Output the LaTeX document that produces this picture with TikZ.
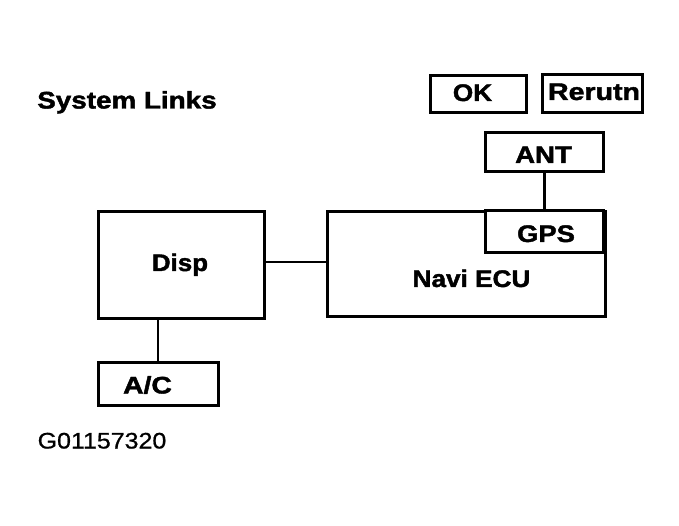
\documentclass[tikz,border=0pt]{standalone}
\usepackage{fontspec}
\setmainfont{Liberation Sans}[BoldFeatures={FakeBold=1.6},UprightFeatures={FakeBold=0.8}]
\begin{document}
\begin{tikzpicture}[x=1pt,y=-1pt,
  box/.style={draw=black,line width=3pt,inner sep=0pt,fill=white},
  lbl/.style={inner sep=0pt,text height=17pt,text depth=0pt,font=\fontsize{24}{27}\selectfont\bfseries},
  plain/.style={inner sep=0pt,text height=16pt,text depth=0pt,font=\fontsize{22.5}{25}\selectfont},
  link/.style={line width=2.6pt}]
\useasboundingbox (0,0) rectangle (679,526);
% boxes
\node[box,minimum width=96pt,minimum height=37pt] (ok) at (478,94.5) {};
\node[box,minimum width=100pt,minimum height=38pt] (ret) at (592,94) {};
\node[box,minimum width=118pt,minimum height=39pt] (ant) at (544.5,152.5) {};
\node[box,minimum width=278pt,minimum height=104pt] (navi) at (466,264) {};
\node[box,minimum width=118pt,minimum height=42pt] (gps) at (544.5,232) {};
\node[box,minimum width=166pt,minimum height=106pt] (disp) at (181,265) {};
\node[box,minimum width=120pt,minimum height=43pt] (ac) at (158,383.5) {};
% connectors
\draw[link] (ant.south) -- (gps.north);
\draw[link] (disp.east |- 0,262) -- (navi.west |- 0,262);
\draw[link] (ac.north) -- (ac.north |- disp.south);
% labels
\node[lbl] (title) at (127,100) {\scalebox{1.16}[1]{System Links}};
\node[lbl] (oktext) at (472.5,92.5) {\scalebox{1.09}[1]{OK}};
\node[lbl] (rettext) at (594,91.5) {\scalebox{1.19}[1]{Rerutn}};
\node[lbl] (anttext) at (543.5,154.5) {\scalebox{1.15}[1]{ANT}};
\node[lbl] (gpstext) at (546,233.5) {\scalebox{1.14}[1]{GPS}};
\node[lbl] (navitext) at (471.5,278.5) {\scalebox{1.09}[1]{Navi ECU}};
\node[lbl] (disptext) at (180,262.5) {\scalebox{1.08}[1]{Disp}};
\node[lbl] (actext) at (147.5,385) {\scalebox{1.18}[1]{A/C}};
\node[plain] (code) at (102,440.5) {\scalebox{1.11}[1]{G01157320}};
\end{tikzpicture}
\end{document}
